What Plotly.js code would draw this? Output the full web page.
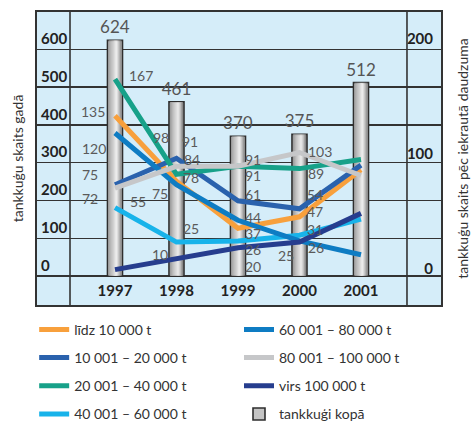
<!DOCTYPE html>
<html>
<head>
<meta charset="utf-8">
<script src="https://cdn.plot.ly/plotly-3.0.1.min.js"></script>
<style>html,body{margin:0;padding:0;background:#fff;}#chart{width:471px;height:421px;}</style>
</head>
<body>
<div id="chart"></div>
<script>
// ---- data ----
const years = ['1997', '1998', '1999', '2000', '2001'];
const totals = [624, 461, 370, 375, 512];
const lidz10k = [135, 78, 37, 47, 88];
const s10to20k = [75, 98, 61, 54, 92];
const s20to40k = [167, 84, 91, 89, 97];
const s40to60k = [55, 25, 26, 31, 45];
const s60to80k = [120, 75, 44, 26, 14];
const s80to100k = [72, 91, 91, 103, 83];
const virs100k = [1, 10, 20, 25, 50];
const seriesNames = ['līdz 10 000 t', '10 001 – 20 000 t', '20 001 – 40 000 t', '40 001 – 60 000 t',
                     '60 001 – 80 000 t', '80 001 – 100 000 t', 'virs 100 000 t'];
const totalName = 'tankkuģi kopā';
const leftTicks = [0, 100, 200, 300, 400, 500, 600];
const rightTicks = [0, 100, 200];
const leftTitle = 'tankkuģu skaits gadā';
const rightTitle = 'tankkuģu skaits pēc iekrautā daudzuma';

// ---- styling ----
const FONT = 'Lato, "Open Sans", sans-serif';
const lineColors = ['#f8a03c', '#2a62ad', '#17a189', '#18b3ea', '#0e7cc3', '#c6c7c9', '#263d8e'];
const seriesData = [lidz10k, s10to20k, s20to40k, s40to60k, s60to80k, s80to100k, virs100k];
// label placement (pixel offsets from each point), null = no label
const labelOffsets = [
  [[-22, 4], [15, 4], [15, -5], [16, 5], null],
  [[-25, 10], [-15, 21], [15, 6], [16, 14], null],
  [[26, 4], [16, 15], [15, -9], [17, -5], null],
  [[23, 6], [15, 14], [15, -9], [16, 6], null],
  [[-21, -15], [-16, -9], [15, 3], [17, -7], null],
  [[-25, -10], [14, 25], [15, 7], [21, 1], null],
  [null, [-16, 5], [15, -19], [-13, -13], null]
];
const legendOf = ['legend', 'legend', 'legend', 'legend', 'legend2', 'legend2', 'legend2'];

const traces = [];
const BW = 0.244;
// bar outline + base fill (legend entry)
traces.push({
  type: 'bar', x: years, y: totals, width: BW, offset: -BW / 2,
  marker: {color: '#c4c4c4', line: {color: '#2e2e2e', width: 1.6}},
  text: totals.map(String), textposition: 'outside', constraintext: 'none',
  textfont: {family: FONT, size: 17, color: '#555'},
  cliponaxis: false,
  name: totalName, legend: 'legend2', legendgroup: 'g8', legendrank: 2000,
  hoverinfo: 'skip'
});
// cylinder shading strips
const NS = 14;
const inner = BW - 0.036;
function shade(t) {
  let v;
  if (t < 0.62) v = 150 + (244 - 150) * Math.pow(t / 0.62, 0.9);
  else v = 244 - (244 - 120) * Math.pow((t - 0.62) / 0.38, 1.3);
  v = Math.round(v);
  return 'rgb(' + v + ',' + v + ',' + v + ')';
}
for (let i = 0; i < NS; i++) {
  const w = inner / NS;
  traces.push({
    type: 'bar', x: years, y: totals, width: w * 1.05, offset: -inner / 2 + i * w,
    marker: {color: shade((i + 0.5) / NS), line: {width: 0}},
    showlegend: false, hoverinfo: 'skip'
  });
}
// lines
seriesData.forEach((vals, k) => {
  traces.push({
    type: 'scatter', mode: 'lines', x: years, y: vals, yaxis: 'y2',
    line: {color: lineColors[k], width: 5},
    name: seriesNames[k], legend: legendOf[k], legendgroup: 'g' + k
  });
});

const annotations = [];
seriesData.forEach((vals, k) => {
  vals.forEach((v, i) => {
    const off = labelOffsets[k][i];
    if (!off) return;
    annotations.push({
      x: i, y: v, xref: 'x', yref: 'y2', text: String(v), showarrow: false,
      xshift: off[0], yshift: off[1],
      font: {family: FONT, size: 14, color: '#5a5a5a'}
    });
  });
});

const tickFont = {family: FONT, size: 15, color: '#222', weight: 'bold'};
const legendFont = {family: FONT, size: 14, color: '#333'};
const layout = {
  width: 471, height: 421,
  margin: {l: 37, r: 30, t: 12, b: 116, autoexpand: false},
  paper_bgcolor: '#ffffff', plot_bgcolor: '#d5edf9',
  barmode: 'overlay',
  font: {family: FONT},
  xaxis: {
    type: 'category', range: [-1.268, 5.301], showgrid: false, zeroline: false,
    showline: true, mirror: true, linecolor: '#333', linewidth: 2,
    ticks: '', ticklabelposition: 'inside', ticklabelstandoff: 6, tickfont: tickFont, fixedrange: true,
    automargin: false
  },
  yaxis: {
    range: [-76.75, 699], tickvals: leftTicks, showgrid: true, gridcolor: '#333', gridwidth: 1.4,
    zeroline: false, showline: true, mirror: true, linecolor: '#333', linewidth: 2,
    ticks: '', ticklabelposition: 'inside top', ticklabelstandoff: 3, tickfont: tickFont,
    title: {text: leftTitle, font: {family: FONT, size: 14, color: '#333'}, standoff: 14},
    automargin: false, fixedrange: true
  },
  yaxis2: {
    overlaying: 'y', side: 'right', range: [-29.8, 225.4], tickvals: rightTicks,
    showgrid: false, zeroline: false, showline: false,
    ticks: '', ticklabelposition: 'inside top', ticklabelstandoff: 5, ticklabelshift: 8, tickfont: tickFont,
    title: {text: rightTitle, font: {family: FONT, size: 14, color: '#333'}, standoff: 25},
    automargin: false, fixedrange: true
  },
  shapes: [
    {type: 'line', xref: 'paper', yref: 'paper', x0: 0.0817, x1: 0.0817, y0: 0, y1: 1, line: {color: '#333', width: 1.6}},
    {type: 'line', xref: 'paper', yref: 'paper', x0: 0.9158, x1: 0.9158, y0: 0, y1: 1, line: {color: '#333', width: 1.6}}
  ],
  annotations: annotations,
  legend: {
    x: -0.007, xanchor: 'left', y: -0.03, yanchor: 'top', orientation: 'v',
    font: legendFont, tracegroupgap: 7, bgcolor: 'rgba(0,0,0,0)'
  },
  legend2: {
    x: 0.50, xanchor: 'left', y: -0.03, yanchor: 'top', orientation: 'v',
    font: legendFont, tracegroupgap: 7, bgcolor: 'rgba(0,0,0,0)'
  },
  showlegend: true
};

Plotly.newPlot('chart', traces, layout, {displayModeBar: false, staticPlot: true});
</script>
</body>
</html>
